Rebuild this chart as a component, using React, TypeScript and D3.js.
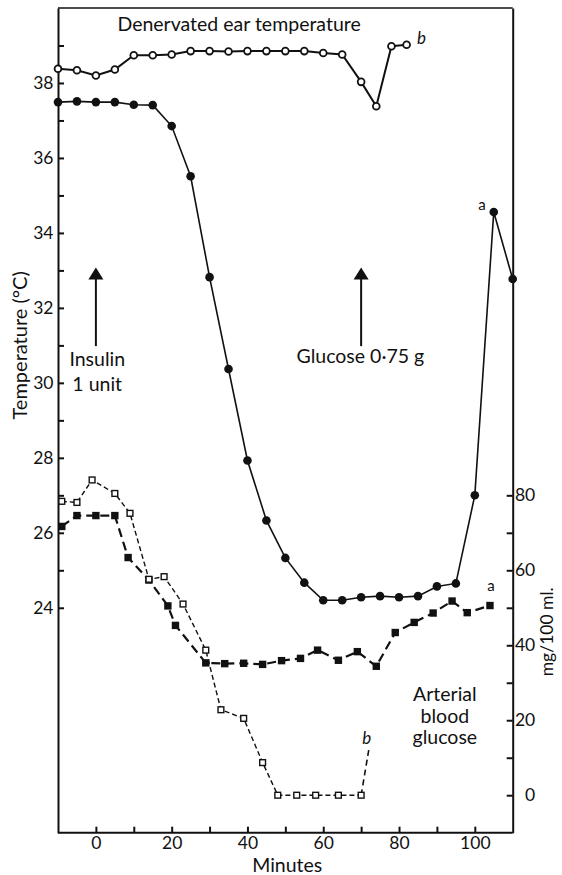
import React, { useEffect, useRef } from 'react'
import * as d3 from 'd3'

// denervated ear (open circles, "b")
const earMinutes = [-10, -5, 0, 5, 10, 15, 20, 25, 30, 35, 40, 45, 50, 55, 60, 65, 70, 74, 78, 82]
const earTemp = [38.38, 38.34, 38.2, 38.36, 38.74, 38.74, 38.76, 38.85, 38.85, 38.84, 38.85, 38.85, 38.85, 38.85, 38.8, 38.76, 38.03, 37.38, 38.98, 39.02]

// normal ear (filled circles, "a")
const normMinutes = [-10, -5, 0, 5, 10, 15, 20, 25, 30, 35, 40, 45, 50, 55, 60, 65, 70, 75, 80, 85, 90, 95, 100, 105, 110]
const normTemp = [37.49, 37.51, 37.49, 37.49, 37.42, 37.41, 36.85, 35.51, 32.82, 30.37, 27.93, 26.33, 25.33, 24.67, 24.2, 24.2, 24.28, 24.31, 24.28, 24.31, 24.57, 24.65, 27.0, 34.56, 32.77]

// arterial blood glucose, mg/100 ml (filled squares "a", open squares "b")
const glucAMinutes = [-9, -5, 0, 5, 8.5, 14, 19, 21, 29, 34, 39, 44, 49, 54, 58.5, 64, 69, 74, 79, 84, 89, 94, 98, 104]
const glucAValues = [71.7, 74.6, 74.6, 74.6, 63.4, 57.4, 50.5, 45.3, 35.3, 35.1, 35.2, 34.9, 35.9, 36.5, 38.7, 36.0, 38.3, 34.4, 43.4, 46.1, 48.6, 51.8, 48.7, 50.6]
const glucBMinutes = [-9, -5, -1, 5, 9, 14, 18, 23, 29, 33, 39, 44, 48, 53, 58, 64, 70]
const glucBValues = [78.4, 78.1, 84.1, 80.5, 75.2, 57.6, 58.3, 51.0, 38.7, 22.8, 20.5, 8.7, 0, 0, 0, 0, 0]
const glucBTailMinutes = [70, 72]
const glucBTailValues = [0, 12]

const xTicks = [0, 10, 20, 30, 40, 50, 60, 70, 80, 90, 100]
const tempTicks = [24, 25, 26, 27, 28, 29, 30, 31, 32, 33, 34, 35, 36, 37, 38, 39]
const glucTicks = [0, 10, 20, 30, 40, 50, 60, 70, 80]

const FONT = 'Lato, "DejaVu Sans", sans-serif'

export default function App() {
  const ref = useRef<SVGSVGElement>(null)

  useEffect(() => {
    const W = 562
    const H = 875
    const left = 58
    const right = 512.7
    const top = 8
    const bottom = 832.7

    const svg = d3.select(ref.current)
    svg.selectAll('*').remove()

    const x = d3.scaleLinear().domain([-10, 110]).range([left, right])
    const yT = d3.scaleLinear().domain([18, 40]).range([bottom, top])
    const yG = d3.scaleLinear().domain([-10, 210]).range([bottom, top])

    const g = svg.append('g').attr('font-family', FONT)

    // axes
    const ax = g.append('g')
      .attr('transform', `translate(0,${bottom})`)
      .call(d3.axisBottom(x).tickValues(xTicks).tickSizeInner(-6).tickSizeOuter(0).tickPadding(4)
        .tickFormat((d: any) => (d % 20 === 0 ? String(d) : '')))
    ax.select('.domain').attr('d', `M${left},0H${right}`)

    const al = g.append('g')
      .attr('transform', `translate(${left},0)`)
      .call(d3.axisLeft(yT).tickValues(tempTicks).tickSizeInner(-6).tickSizeOuter(0).tickPadding(4.5)
        .tickFormat((d: any) => (d % 2 === 0 ? String(d) : '')))

    const ar = g.append('g')
      .attr('transform', `translate(${right},0)`)
      .call(d3.axisRight(yG).tickValues(glucTicks).tickSizeInner(-6).tickSizeOuter(0)
        .tickFormat((d: any) => (d % 20 === 0 ? String(d) : '')))
    ar.selectAll('text').attr('text-anchor', 'end').attr('x', 22.5)

    for (const a of [ax, al, ar]) {
      a.attr('font-family', FONT).attr('font-size', 17.5)
      a.selectAll('path, line').attr('stroke', '#111').attr('stroke-width', 2)
      a.selectAll('text').attr('fill', '#111')
    }

    // top border
    g.append('path').attr('d', `M${left},${top}H${right}`).attr('stroke', '#111').attr('stroke-width', 1.5)

    // lines
    const earData = earMinutes.map((m, i) => [m, earTemp[i]])
    const normData = normMinutes.map((m, i) => [m, normTemp[i]])
    const gaData = glucAMinutes.map((m, i) => [m, glucAValues[i]])
    const gbData = glucBMinutes.map((m, i) => [m, glucBValues[i]])
    const gbTail = glucBTailMinutes.map((m, i) => [m, glucBTailValues[i]])

    const lineT = d3.line<number[]>().x((d) => x(d[0])).y((d) => yT(d[1]))
    const lineG = d3.line<number[]>().x((d) => x(d[0])).y((d) => yG(d[1]))

    g.append('path').attr('d', lineT(normData)).attr('fill', 'none').attr('stroke', '#111').attr('stroke-width', 1.6)
    g.append('path').attr('d', lineT(earData)).attr('fill', 'none').attr('stroke', '#111').attr('stroke-width', 2)
    g.append('path').attr('d', lineG(gaData)).attr('fill', 'none').attr('stroke', '#111')
      .attr('stroke-width', 2.2).attr('stroke-dasharray', '9,5')
    g.append('path').attr('d', lineG(gbData)).attr('fill', 'none').attr('stroke', '#111')
      .attr('stroke-width', 1.4).attr('stroke-dasharray', '5,3')
    g.append('path').attr('d', lineG(gbTail)).attr('fill', 'none').attr('stroke', '#111')
      .attr('stroke-width', 1.6).attr('stroke-dasharray', '6,4')

    // markers
    g.selectAll('.norm').data(normData).enter().append('circle')
      .attr('cx', (d) => x(d[0])).attr('cy', (d) => yT(d[1])).attr('r', 4.3).attr('fill', '#111')
    g.selectAll('.ear').data(earData).enter().append('circle')
      .attr('cx', (d) => x(d[0])).attr('cy', (d) => yT(d[1])).attr('r', 3.4)
      .attr('fill', '#fff').attr('stroke', '#111').attr('stroke-width', 1.8)
    g.selectAll('.ga').data(gaData).enter().append('rect')
      .attr('x', (d) => x(d[0]) - 3.7).attr('y', (d) => yG(d[1]) - 3.7).attr('width', 7.4).attr('height', 7.4)
      .attr('fill', '#111')
    g.selectAll('.gb').data(gbData).enter().append('rect')
      .attr('x', (d) => x(d[0]) - 2.9).attr('y', (d) => yG(d[1]) - 2.9).attr('width', 5.8).attr('height', 5.8)
      .attr('fill', '#fff').attr('stroke', '#111').attr('stroke-width', 1.4)

    // arrows
    const arrow = (m: number) => {
      const ax0 = x(m)
      const yTip = yT(33.08)
      const yBase = yT(30.98)
      g.append('line').attr('x1', ax0).attr('x2', ax0).attr('y1', yBase).attr('y2', yTip + 8)
        .attr('stroke', '#111').attr('stroke-width', 2)
      g.append('path').attr('d', `M${ax0},${yTip}L${ax0 + 7.5},${yTip + 12}L${ax0 - 7.5},${yTip + 12}Z`).attr('fill', '#111')
    }
    arrow(0)
    arrow(70)

    const txt = (m: number, y: number, s: string, size = 19.5, italic = false) =>
      g.append('text').attr('x', x(m)).attr('y', y).attr('text-anchor', 'middle')
        .attr('font-size', size).attr('fill', '#111').attr('font-style', italic ? 'italic' : 'normal').text(s)

    txt(37.8, yT(39.38), 'Denervated ear temperature')
    txt(0.35, yT(30.46), 'Insulin')
    txt(0.35, yT(29.79), '1 unit')
    txt(69.8, yT(30.53), 'Glucose 0·75 g')
    txt(92.1, yT(21.5), 'Arterial')
    txt(92.1, yT(20.93), 'blood')
    txt(92.1, yT(20.36), 'glucose')
    txt(101.9, yT(34.6), 'a', 15)
    txt(104.3, yG(54.6), 'a', 15)
    txt(85.9, yT(39.05), 'b', 17, true)
    txt(71.5, yG(13.7), 'b', 17, true)

    // axis titles
    g.append('text').attr('transform', `translate(26.5,${yT(31.0)}) rotate(-90)`).attr('text-anchor', 'middle')
      .attr('font-size', 20).attr('fill', '#111').text('Temperature (°C)')
    g.append('text').attr('transform', `translate(552.5,${yG(43.6)}) rotate(-90)`).attr('text-anchor', 'middle')
      .attr('font-size', 17.5).attr('fill', '#111').text('mg/100 ml.')
    g.append('text').attr('x', x(50.5)).attr('y', H - 3.5).attr('text-anchor', 'middle')
      .attr('font-size', 19.5).attr('fill', '#111').text('Minutes')

    svg.attr('width', W).attr('height', H)
  }, [])

  return (
    <svg ref={ref} width={562} height={875}
      style={{ position: 'absolute', left: 0, top: 0, background: '#fff' }} />
  )
}
